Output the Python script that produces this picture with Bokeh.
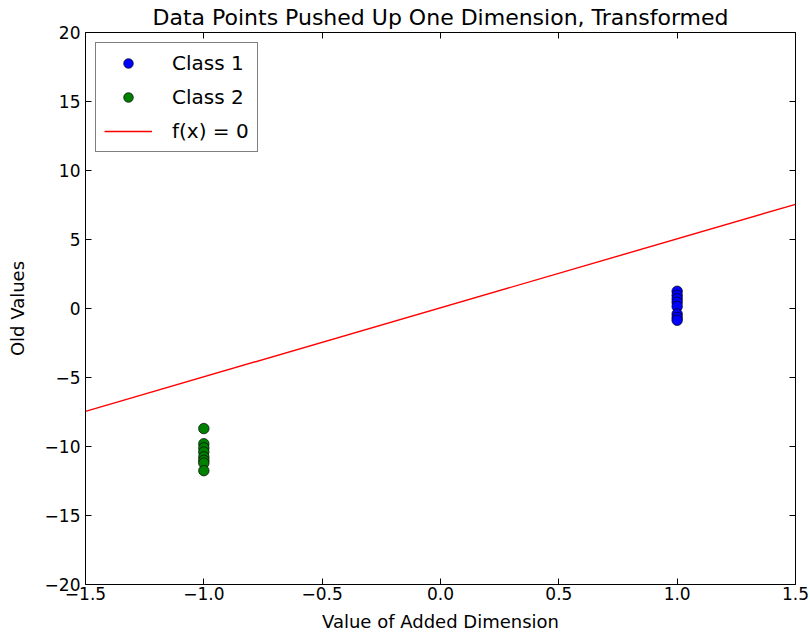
from bokeh.plotting import figure
from bokeh.models import LinearAxis, Range1d, FixedTicker, Legend, LegendItem
from bokeh.embed import file_html
from bokeh.resources import INLINE

# data
class1_x = [1.0, 1.0, 1.0, 1.0, 1.0, 1.0, 1.0, 1.0]
class1_y = [1.25, 0.95, 0.7, 0.45, 0.15, -0.4, -0.65, -0.85]
class2_x = [-1.0, -1.0, -1.0, -1.0, -1.0, -1.0, -1.0, -1.0]
class2_y = [-8.7, -9.8, -10.1, -10.4, -10.75, -11.0, -11.2, -11.75]
line_x = [-1.5, 1.5]
line_y = [-7.45, 7.55]

x_ticks = [-1.5, -1.0, -0.5, 0.0, 0.5, 1.0, 1.5]
x_labels = ["\u22121.5", "\u22121.0", "\u22120.5", "0.0", "0.5", "1.0", "1.5"]
y_ticks = [-20, -15, -10, -5, 0, 5, 10, 15, 20]
y_labels = ["\u221220", "\u221215", "\u221210", "\u22125", "0", "5", "10", "15", "20"]

FONT = "DejaVu Sans"

p = figure(width=810, height=638, output_backend="svg", toolbar_location=None,
           x_range=Range1d(-1.5, 1.5), y_range=Range1d(-20, 20),
           title="Data Points Pushed Up One Dimension, Transformed",
           min_border_left=85, min_border_right=15, min_border_top=31, min_border_bottom=54)

p.title.align = "center"
p.title.text_font = FONT
p.title.text_font_size = "22px"
p.title.text_font_style = "normal"
p.title.text_color = "black"
p.title.offset = 0
p.title.standoff = 5

p.xgrid.visible = False
p.ygrid.visible = False
p.outline_line_color = "black"
p.outline_line_width = 1
p.background_fill_color = "white"
p.border_fill_color = "white"

def style_axis(ax, labels=True):
    ax.major_tick_in = 6
    ax.major_tick_out = 0
    ax.minor_tick_in = 0
    ax.minor_tick_out = 0
    ax.axis_line_color = None
    ax.major_tick_line_color = "black"
    ax.major_label_text_font = FONT
    ax.major_label_text_font_size = "17px"
    ax.major_label_text_color = "black"
    ax.axis_label_text_font = FONT
    ax.axis_label_text_font_size = "18px"
    ax.axis_label_text_font_style = "normal"
    ax.axis_label_text_color = "black"
    if not labels:
        ax.major_label_text_font_size = "0px"
        ax.major_label_text_color = None
        ax.major_label_standoff = 0

xa = p.xaxis[0]
xa.ticker = FixedTicker(ticks=x_ticks)
xa.major_label_overrides = {t: l for t, l in zip(x_ticks, x_labels)}
xa.axis_label = "Value of Added Dimension"
style_axis(xa)
xa.major_label_standoff = 2
xa.axis_label_standoff = 8

ya = p.yaxis[0]
ya.ticker = FixedTicker(ticks=y_ticks)
ya.major_label_overrides = {t: l for t, l in zip(y_ticks, y_labels)}
ya.axis_label = "Old Values"
style_axis(ya)
ya.major_label_standoff = 5
ya.axis_label_standoff = 14

top = LinearAxis(ticker=FixedTicker(ticks=x_ticks))
style_axis(top, labels=False)
p.add_layout(top, "above")
right = LinearAxis(ticker=FixedTicker(ticks=y_ticks))
style_axis(right, labels=False)
p.add_layout(right, "right")

r1 = p.scatter(class1_x, class1_y, size=10.5, fill_color="#0000ff", line_color="black", line_width=0.7)
r2 = p.scatter(class2_x, class2_y, size=10.5, fill_color="#008000", line_color="black", line_width=0.7)
r3 = p.line(line_x, line_y, line_color="#ff0000", line_width=1.4)

legend = Legend(items=[LegendItem(label="Class 1", renderers=[r1]),
                       LegendItem(label="Class 2", renderers=[r2]),
                       LegendItem(label="f(x) = 0", renderers=[r3])],
                location="top_left")
legend.border_line_color = "black"
legend.border_line_width = 1
legend.label_text_font = FONT
legend.label_text_font_size = "20px"
legend.label_text_color = "black"
legend.glyph_width = 48
legend.glyph_height = 24
legend.label_height = 24
legend.label_standoff = 20
legend.spacing = 10
legend.padding = 8
legend.margin = 10
p.add_layout(legend, "center")

open("out.html", "w").write(file_html(p, INLINE))
